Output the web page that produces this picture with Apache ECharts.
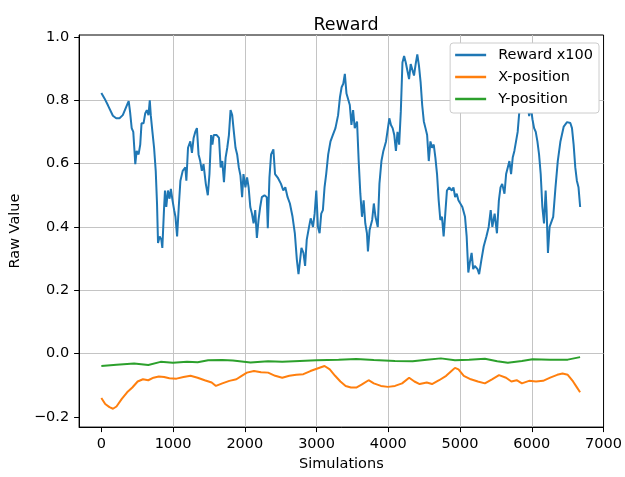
<!DOCTYPE html>
<html>
<head>
<meta charset="utf-8">
<script src="https://cdn.jsdelivr.net/npm/echarts@6/dist/echarts.min.js"></script>
<style>
html,body{margin:0;padding:0;background:#fff;}
#chart{width:625px;height:477px;}
</style>
</head>
<body>
<div id="chart"></div>
<script>
const titleText = 'Reward';
const xTicks = [0, 1000, 2000, 3000, 4000, 5000, 6000, 7000];
const yTicks = [-0.2, 0, 0.2, 0.4, 0.6, 0.8, 1.0];

const rewardSim = [0,46,92,161,207,253,299,367,381,400,423,445,459,473,492,519,542,560,588,611,634,657,675,689,712,735,758,776,790,813,836,850,873,887,905,928,951,969,992,1015,1033,1056,1079,1102,1134,1171,1185,1208,1240,1263,1286,1309,1332,1355,1378,1401,1424,1456,1484,1507,1530,1548,1566,1608,1640,1663,1686,1709,1732,1755,1778,1801,1824,1847,1870,1893,1916,1939,1962,1981,2008,2031,2053,2076,2099,2122,2145,2168,2191,2214,2237,2274,2306,2320,2343,2366,2398,2421,2458,2504,2536,2564,2596,2628,2665,2697,2725,2748,2771,2789,2817,2840,2863,2895,2918,2950,2973,2996,3019,3042,3065,3088,3111,3134,3162,3194,3226,3263,3300,3326,3349,3372,3394,3417,3440,3463,3486,3509,3532,3564,3587,3610,3633,3656,3679,3702,3716,3739,3775,3798,3821,3853,3876,3904,3931,3968,4014,4037,4060,4083,4106,4128,4151,4174,4197,4220,4243,4266,4289,4312,4335,4358,4381,4404,4427,4450,4472,4495,4518,4541,4564,4587,4610,4633,4656,4679,4702,4725,4748,4771,4794,4817,4849,4885,4908,4931,4954,4977,5000,5032,5069,5092,5115,5138,5161,5183,5206,5243,5266,5298,5330,5367,5399,5427,5450,5482,5514,5541,5564,5587,5619,5642,5665,5688,5711,5734,5757,5780,5803,5826,5849,5872,5894,5917,5940,5963,5986,6009,6032,6055,6078,6101,6124,6147,6170,6193,6206,6225,6248,6275,6298,6330,6362,6399,6445,6491,6537,6560,6583,6606,6628,6651,6674];
const rewardVal = [0.823,0.805,0.784,0.751,0.743,0.743,0.753,0.790,0.797,0.764,0.712,0.700,0.650,0.598,0.640,0.629,0.660,0.727,0.727,0.758,0.769,0.753,0.800,0.753,0.700,0.650,0.577,0.474,0.349,0.370,0.360,0.334,0.453,0.515,0.463,0.515,0.489,0.520,0.484,0.453,0.432,0.370,0.463,0.546,0.577,0.588,0.546,0.650,0.670,0.634,0.681,0.700,0.712,0.629,0.608,0.577,0.598,0.536,0.500,0.567,0.690,0.660,0.690,0.690,0.681,0.588,0.608,0.541,0.619,0.650,0.690,0.769,0.753,0.700,0.650,0.629,0.588,0.562,0.494,0.567,0.525,0.556,0.525,0.463,0.442,0.411,0.453,0.365,0.422,0.463,0.494,0.500,0.494,0.396,0.556,0.629,0.645,0.567,0.556,0.536,0.515,0.525,0.494,0.474,0.432,0.380,0.297,0.251,0.297,0.334,0.318,0.277,0.360,0.400,0.427,0.400,0.442,0.515,0.400,0.380,0.442,0.453,0.525,0.567,0.629,0.670,0.690,0.712,0.753,0.810,0.841,0.852,0.883,0.821,0.815,0.785,0.722,0.769,0.712,0.733,0.608,0.505,0.432,0.484,0.411,0.380,0.323,0.390,0.422,0.474,0.432,0.400,0.536,0.608,0.640,0.670,0.743,0.722,0.712,0.690,0.640,0.700,0.660,0.764,0.919,0.940,0.919,0.914,0.867,0.914,0.909,0.878,0.914,0.945,0.909,0.857,0.785,0.733,0.712,0.690,0.608,0.670,0.650,0.660,0.619,0.567,0.484,0.422,0.432,0.370,0.442,0.515,0.525,0.515,0.525,0.494,0.505,0.484,0.484,0.463,0.432,0.370,0.256,0.290,0.318,0.267,0.277,0.267,0.251,0.297,0.339,0.370,0.400,0.453,0.400,0.442,0.380,0.484,0.525,0.536,0.505,0.567,0.588,0.608,0.567,0.619,0.640,0.670,0.700,0.764,0.800,0.770,0.810,0.760,0.790,0.750,0.780,0.740,0.712,0.700,0.670,0.629,0.567,0.463,0.411,0.515,0.453,0.318,0.400,0.400,0.432,0.525,0.608,0.670,0.717,0.731,0.728,0.712,0.660,0.588,0.546,0.525,0.463];

const xPosSim = [0,54,113,162,211,285,359,432,506,580,654,727,801,875,948,1047,1145,1243,1342,1440,1538,1597,1686,1784,1882,1956,2029,2127,2226,2324,2423,2521,2620,2717,2816,2914,3012,3111,3184,3258,3332,3405,3479,3553,3627,3725,3798,3897,3995,4093,4192,4290,4364,4437,4536,4609,4708,4806,4880,4929,4978,5052,5150,5248,5346,5445,5543,5641,5715,5789,5862,5961,6059,6157,6256,6354,6428,6501,6575,6624,6673];
const xPosVal = [-0.140,-0.159,-0.169,-0.174,-0.167,-0.143,-0.122,-0.107,-0.088,-0.081,-0.084,-0.076,-0.072,-0.074,-0.078,-0.079,-0.074,-0.070,-0.076,-0.084,-0.091,-0.102,-0.094,-0.086,-0.081,-0.070,-0.060,-0.055,-0.059,-0.060,-0.070,-0.076,-0.070,-0.067,-0.065,-0.055,-0.047,-0.039,-0.050,-0.070,-0.088,-0.102,-0.107,-0.107,-0.098,-0.084,-0.094,-0.102,-0.105,-0.102,-0.094,-0.076,-0.088,-0.096,-0.091,-0.096,-0.084,-0.070,-0.055,-0.045,-0.050,-0.070,-0.081,-0.088,-0.094,-0.081,-0.068,-0.076,-0.088,-0.084,-0.094,-0.086,-0.088,-0.086,-0.076,-0.067,-0.063,-0.067,-0.088,-0.105,-0.122];

const yPosSim = [0,211,457,654,826,998,1194,1342,1489,1686,1833,2079,2324,2521,2767,2998,3307,3553,3798,4093,4339,4536,4732,4929,5125,5346,5518,5666,5862,6010,6256,6501,6673];
const yPosVal = [-0.039,-0.035,-0.031,-0.036,-0.026,-0.029,-0.026,-0.027,-0.021,-0.020,-0.022,-0.028,-0.024,-0.026,-0.023,-0.021,-0.019,-0.017,-0.020,-0.023,-0.024,-0.019,-0.015,-0.021,-0.019,-0.016,-0.024,-0.029,-0.023,-0.018,-0.019,-0.019,-0.011];

const seriesNames = ['Reward x100', 'X-position', 'Y-position'];
const seriesColors = ['#1f77b4', '#ff7f0e', '#2ca02c'];

function zip(a, b) { return a.map((v, i) => [v, b[i]]); }

const FONT = 'DejaVu Sans';
const chart = echarts.init(document.getElementById('chart'), null, {renderer: 'canvas'});

function yFmt(v) {
  if (Math.abs(v) < 1e-9) return '0.0';
  const s = v.toFixed(1);
  return s.replace('-', '\u2212');
}
function xFmt(v) { return String(Math.round(v)); }

const option = {
  backgroundColor: '#fff',
  animation: false,
  title: {
    text: titleText,
    left: 341, top: 11, textAlign: 'center',
    textStyle: {fontFamily: FONT, fontSize: 17.5, fontWeight: 'normal', color: '#000'}
  },
  grid: {left: 75, right: 18, top: 35, bottom: 44, show: true, borderColor: '#000', borderWidth: 1, backgroundColor: 'transparent'},
  legend: {
    orient: 'vertical', right: 26, top: 43, align: 'left', z: 20,
    backgroundColor: '#ffffff', borderColor: '#cccccc', borderWidth: 1, borderRadius: 3,
    padding: [4, 6, 6, 5], itemGap: 6, itemWidth: 31, itemHeight: 2.5, icon: 'rect',
    textStyle: {fontFamily: FONT, fontSize: 14.5, color: '#000', lineHeight: 16, padding: [0, 0, 0, 7]},
    data: seriesNames
  },
  xAxis: {
    type: 'value', min: -310, max: 7000,
    name: 'Simulations', nameLocation: 'middle', nameGap: 27,
    nameTextStyle: {fontFamily: FONT, fontSize: 14.5, color: '#000'},
    axisLine: {show: true, onZero: false, lineStyle: {color: '#000', width: 1}},
    axisTick: {show: true, length: 5, lineStyle: {color: '#000'}, customValues: xTicks},
    axisLabel: {fontFamily: FONT, fontSize: 14.5, color: '#000', margin: 10, customValues: xTicks, formatter: xFmt},
    splitLine: {show: true, showMinLine: false, showMaxLine: false, lineStyle: {color: '#c4c4c4', width: 1}}
  },
  yAxis: {
    type: 'value', min: -0.232, max: 1.006,
    name: 'Raw Value', nameLocation: 'middle', nameGap: 52,
    nameTextStyle: {fontFamily: FONT, fontSize: 14.5, color: '#000'},
    axisLine: {show: true, onZero: false, lineStyle: {color: '#000', width: 1}},
    axisTick: {show: true, length: 5, lineStyle: {color: '#000'}, customValues: yTicks},
    axisLabel: {fontFamily: FONT, fontSize: 14.5, color: '#000', margin: 10, customValues: yTicks, formatter: yFmt},
    splitLine: {show: true, showMinLine: false, showMaxLine: false, lineStyle: {color: '#c4c4c4', width: 1}}
  },
  series: [
    {name: seriesNames[0], type: 'line', data: zip(rewardSim, rewardVal), symbol: 'none', color: seriesColors[0], lineStyle: {width: 2, color: seriesColors[0]}, z: 3},
    {name: seriesNames[1], type: 'line', data: zip(xPosSim, xPosVal), symbol: 'none', color: seriesColors[1], lineStyle: {width: 2, color: seriesColors[1]}, z: 3},
    {name: seriesNames[2], type: 'line', data: zip(yPosSim, yPosVal), symbol: 'none', color: seriesColors[2], lineStyle: {width: 2, color: seriesColors[2]}, z: 3}
  ]
};
chart.setOption(option);
</script>
</body>
</html>
